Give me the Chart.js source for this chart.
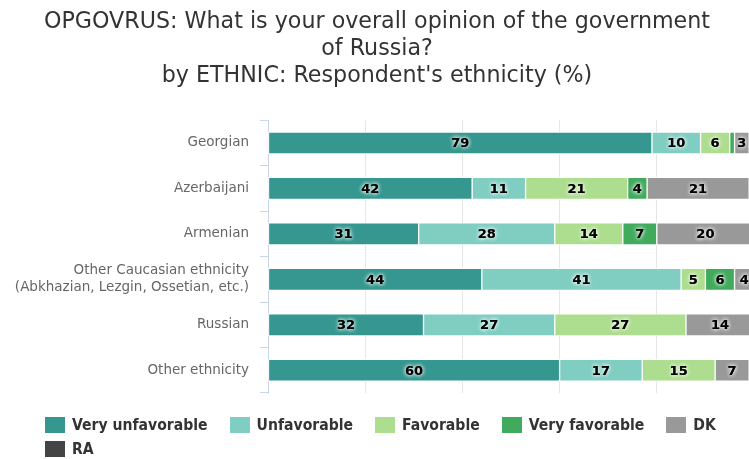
<!DOCTYPE html>
<html>
<head>
<meta charset="utf-8">
<title>OPGOVRUS by ETHNIC</title>
<script src="https://cdn.jsdelivr.net/npm/chart.js@4/dist/chart.umd.min.js"></script>
<style>
  html, body { margin: 0; padding: 0; background: #fff; overflow: hidden; }
  #wrap { position: relative; width: 766px; height: 459px; }
  #legend {
    position: absolute; left: 45px; top: 413px; width: 715px;
    display: flex; flex-wrap: wrap;
    font: bold 15.6px "DejaVu Sans Condensed", "DejaVu Sans", sans-serif; color: #333;
  }
  #legend .item { display: flex; align-items: center; height: 24px; margin-right: 22px; }
  #legend .box { width: 20px; height: 16px; margin-right: 7px; }
</style>
</head>
<body>
<div id="wrap">
  <canvas id="opinionChart"></canvas>
  <div id="legend"></div>
</div>
<script>
// ===== Data =====
const ethnicities = [
  "Georgian",
  "Azerbaijani",
  "Armenian",
  ["Other Caucasian ethnicity", "(Abkhazian, Lezgin, Ossetian, etc.)"],
  "Russian",
  "Other ethnicity"
];

const veryUnfavorable = [79, 42, 31, 44, 32, 60];
const unfavorable     = [10, 11, 28, 41, 27, 17];
const favorable       = [6, 21, 14, 5, 27, 15];
const veryFavorable   = [1, 4, 7, 6, 0, 0];
const dk              = [3, 21, 20, 4, 14, 7];
const ra              = [1, 1, 0, 0, 0, 1];

const xTicks = [0, 20, 40, 60, 80, 100];

const series = [
  { label: "Very unfavorable", data: veryUnfavorable, color: "#35978f" },
  { label: "Unfavorable",      data: unfavorable,     color: "#80cdc1" },
  { label: "Favorable",        data: favorable,       color: "#addd8e" },
  { label: "Very favorable",   data: veryFavorable,   color: "#41ab5d" },
  { label: "DK",               data: dk,              color: "#999999" },
  { label: "RA",               data: ra,              color: "#444444" }
];

// ===== Value labels inside the bars =====
const valueLabels = {
  id: "valueLabels",
  afterDatasetsDraw(chart) {
    const ctx = chart.ctx;
    ctx.save();
    ctx.font = 'bold 13px "DejaVu Sans", sans-serif';
    ctx.textAlign = "center";
    ctx.textBaseline = "middle";
    chart.data.datasets.forEach((ds, i) => {
      chart.getDatasetMeta(i).data.forEach((bar, j) => {
        const v = ds.data[j];
        if (v < 2) return;
        const { x, y, base } = bar.getProps(["x", "y", "base"], true);
        const cx = (x + base) / 2;
        ctx.shadowColor = "rgba(255,255,255,0.95)";
        ctx.shadowBlur = 4;
        ctx.fillStyle = "#000";
        ctx.fillText(v, cx, y + 1);
        ctx.fillText(v, cx, y + 1);
      });
    });
    ctx.restore();
  }
};

const chart = new Chart(document.getElementById("opinionChart"), {
  type: "bar",
  data: {
    labels: ethnicities,
    datasets: series.map(s => ({
      label: s.label,
      data: s.data,
      backgroundColor: s.color,
      borderColor: "#ffffff",
      borderWidth: 1,
      borderSkipped: false,
      barThickness: 22
    }))
  },
  options: {
    indexAxis: "y",
    responsive: true,
    maintainAspectRatio: false,
    animation: false,
    layout: { padding: { top: 3, right: 12, bottom: 66, left: 0 } },
    plugins: {
      legend: { display: false },
      tooltip: { enabled: false },
      title: {
        display: true,
        text: [
          "OPGOVRUS: What is your overall opinion of the government",
          "of Russia?",
          "by ETHNIC: Respondent's ethnicity (%)"
        ],
        color: "#333333",
        font: { family: '"DejaVu Sans", sans-serif', size: 22.2, weight: "normal", lineHeight: 1.22 },
        padding: { top: 6, bottom: 30 }
      }
    },
    scales: {
      x: {
        stacked: true,
        min: xTicks[0],
        max: xTicks[xTicks.length - 1],
        afterBuildTicks: scale => { scale.ticks = xTicks.map(v => ({ value: v })); },
        ticks: { display: false },
        grid: { color: "#e6e6e6", drawTicks: false },
        border: { display: false }
      },
      y: {
        stacked: true,
        afterFit: scale => { scale.width = 268; },
        ticks: {
          color: "#666666",
          padding: 11,
          font: { family: '"DejaVu Sans", sans-serif', size: 13.5, lineHeight: 1.26 }
        },
        grid: { drawOnChartArea: false, drawTicks: true, tickLength: 8, color: "#ccd6eb", offset: true },
        border: { color: "#ccd6eb", width: 1 }
      }
    }
  },
  plugins: [valueLabels]
});

// ===== Legend =====
const legendEl = document.getElementById("legend");
chart.data.datasets.forEach(ds => {
  const item = document.createElement("div");
  item.className = "item";
  const box = document.createElement("span");
  box.className = "box";
  box.style.background = ds.backgroundColor;
  const text = document.createElement("span");
  text.textContent = ds.label;
  item.appendChild(box);
  item.appendChild(text);
  legendEl.appendChild(item);
});
</script>
</body>
</html>
